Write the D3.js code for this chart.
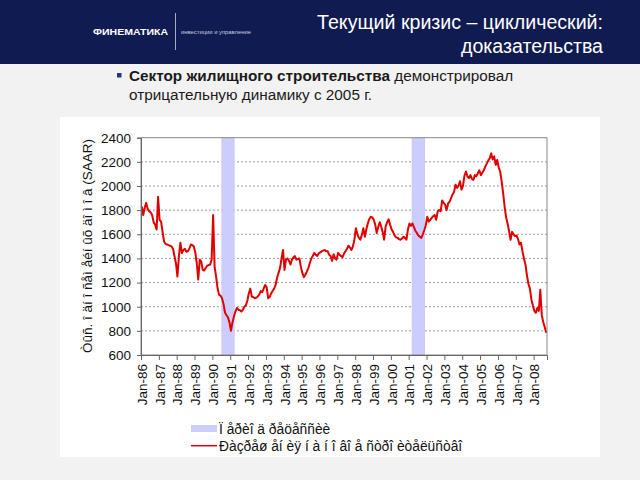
<!DOCTYPE html>
<html><head><meta charset="utf-8">
<script src="https://cdn.jsdelivr.net/npm/d3@7"></script>
<style>
body{margin:0;background:#fff}
svg{display:block;font-family:"Liberation Sans",Arial,sans-serif}
</style>
</head><body>
<svg id="c" width="640" height="480"></svg>
<script>
// ---------- DATA ----------
const startYear = 1986;           // first month: Jan 1986, monthly to Sep 2008
const permits = [
  1830,1760,1820,1860,1810,1790,1780,1760,1700,1680,1640,1910, // 1986
  1720,1705,1620,1540,1520,1515,1510,1505,1500,1480,1420,1360, // 1987
  1250,1420,1530,1445,1470,1480,1455,1460,1480,1515,1510,1500, // 1988
  1450,1360,1225,1390,1375,1305,1300,1320,1340,1345,1350,1390, // 1989
  1760,1330,1250,1150,1100,1090,1070,1020,950,930,910,870,     // 1990
  800,870,920,960,990,975,970,960,975,1000,1010,1050,          // 1991
  1110,1150,1085,1080,1070,1075,1085,1100,1130,1120,1150,1180, // 1992
  1160,1070,1080,1110,1130,1150,1180,1240,1280,1320,1400,1470, // 1993
  1305,1390,1400,1380,1350,1390,1410,1420,1390,1395,1400,1330, // 1994
  1280,1245,1265,1290,1320,1360,1400,1420,1445,1430,1420,1440, // 1995
  1450,1460,1465,1470,1460,1460,1430,1420,1380,1435,1400,1390, // 1996
  1445,1430,1420,1410,1440,1460,1480,1505,1490,1470,1500,1555, // 1997
  1650,1600,1570,1555,1595,1650,1580,1640,1690,1725,1745,1740, // 1998
  1720,1680,1610,1660,1700,1665,1620,1555,1665,1700,1725,1680, // 1999
  1640,1620,1590,1575,1570,1560,1555,1565,1580,1570,1555,1640, // 2000
  1690,1670,1690,1660,1630,1610,1590,1580,1570,1600,1635,1675, // 2001
  1745,1705,1720,1735,1750,1760,1720,1790,1800,1790,1880,1860, // 2002
  1845,1800,1855,1870,1900,1930,1950,2010,1985,2000,2040,1970, // 2003
  2000,2085,2120,2080,2065,2090,2060,2050,2090,2080,2105,2130, // 2004
  2090,2110,2130,2160,2185,2210,2230,2270,2220,2245,2175,2215, // 2005
  2155,2120,2040,1940,1830,1740,1690,1625,1555,1620,1600,1585, // 2006
  1590,1560,1515,1530,1460,1400,1350,1260,1190,1150,1060,1010, // 2007
  965,950,990,965,1140,930,870,830,785                          // 2008
];
const recessions = [["1990-07","1991-03"],["2001-03","2001-11"]];
const xTickLabels = ["Jan-86","Jan-87","Jan-88","Jan-89","Jan-90","Jan-91","Jan-92","Jan-93",
  "Jan-94","Jan-95","Jan-96","Jan-97","Jan-98","Jan-99","Jan-00","Jan-01","Jan-02","Jan-03",
  "Jan-04","Jan-05","Jan-06","Jan-07","Jan-08"];
const yTicks = [600,800,1000,1200,1400,1600,1800,2000,2200,2400];

const titleLines = ["Текущий кризис – циклический:","доказательства"];
const bulletBold = "Сектор жилищного строительства";
const bulletRest = " демонстрировал";
const bulletLine2 = "отрицательную динамику с 2005 г.";
const yTitle = "Òûñ. î äí î ñåì åéí ûõ äî ì î â (SAAR)";
const legendLabels = ["Ï åðèî ä ðåöåññèè","Ðàçðåø åí èÿ í à í î âî å ñòðî èòåëüñòâî"];

// ---------- DRAW ----------
(function(){
const svg = d3.select("#c");
svg.append("rect").attr("width",640).attr("height",480).attr("fill","#f2f2f2");
// header
svg.append("rect").attr("width",640).attr("height",64).attr("fill","#101b52");
svg.append("text").attr("x",93).attr("y",34.5).attr("fill","#fff").attr("font-weight","bold")
  .attr("font-size",8.5).attr("textLength",75).attr("lengthAdjust","spacingAndGlyphs").text("ФИНЕМАТИКА");
svg.append("line").attr("x1",175.5).attr("x2",175.5).attr("y1",13).attr("y2",50).attr("stroke","#aab").attr("stroke-width",1);
svg.append("text").attr("x",181).attr("y",34).attr("fill","#c8cbe0").attr("font-size",5)
  .attr("textLength",70).attr("lengthAdjust","spacingAndGlyphs").text("инвестиции и управление");
svg.selectAll("text.title").data(titleLines).join("text").attr("class","title")
  .attr("x",603).attr("y",(d,i)=>29+i*24).attr("text-anchor","end")
  .attr("fill","#fff").attr("font-size",19.6).text(d=>d);
// bullet
svg.append("rect").attr("x",117).attr("y",73).attr("width",4.5).attr("height",4.5).attr("fill","#233585");
const bt = svg.append("text").attr("x",129).attr("y",81).attr("font-size",15.3).attr("fill","#1a1a1a");
bt.append("tspan").attr("font-weight","bold").text(bulletBold);
bt.append("tspan").text(bulletRest);
svg.append("text").attr("x",129).attr("y",99.5).attr("font-size",15.3).attr("fill","#1a1a1a").text(bulletLine2);

// chart panel
svg.append("rect").attr("x",60).attr("y",117).attr("width",540).attr("height",340).attr("fill","#fff");

const pL=141, pR=547, pT=137.7, pB=355;
const n = permits.length;
const xLin = d3.scaleLinear().domain([0,n]).range([pL,pR]);
const y = d3.scaleLinear().domain([600,2400]).range([pB,pT]);
const monthIndex = s => { const [yy,mm] = s.split("-").map(Number); return (yy-startYear)*12 + (mm-1); };

// gridlines
svg.append("g").selectAll("line").data(yTicks.filter(v=>v>600 && v<2400)).join("line")
  .attr("x1",pL).attr("x2",pR).attr("y1",d=>y(d)).attr("y2",d=>y(d))
  .attr("stroke","#9a9a9a").attr("stroke-width",1).attr("stroke-dasharray","2,2");
// recession bands
svg.append("g").selectAll("rect").data(recessions).join("rect")
  .attr("x",d=>xLin(monthIndex(d[0])))
  .attr("width",d=>xLin(monthIndex(d[1])+1)-xLin(monthIndex(d[0])))
  .attr("y",pT).attr("height",pB-pT).attr("fill","#ccccff");
// line
const line = d3.line().x((d,i)=>xLin(i+0.5)).y(d=>y(d));
svg.append("path").datum(permits).attr("d",line).attr("fill","none")
  .attr("stroke","#e00000").attr("stroke-width",2).attr("stroke-linejoin","round");
// frame
svg.append("rect").attr("x",pL).attr("y",pT).attr("width",pR-pL).attr("height",pB-pT)
  .attr("fill","none").attr("stroke","#888").attr("stroke-width",1);

// y axis
const ya = svg.append("g").attr("transform",`translate(${pL},0)`)
  .call(d3.axisLeft(y).tickValues(yTicks).tickSize(4).tickPadding(6).tickFormat(d3.format("d")));
ya.select(".domain").attr("stroke","#666");
ya.selectAll(".tick line").attr("stroke","#666");
ya.selectAll("text").attr("font-size",13.5).attr("fill","#111").attr("font-family","Liberation Sans, Arial, sans-serif");

// x axis
const tickIdx = xTickLabels.map((d,i)=>i*12);
const xa = svg.append("g").attr("transform",`translate(0,${pB})`)
  .call(d3.axisBottom(xLin).tickValues(tickIdx).tickSize(5).tickFormat(""));
xa.select(".domain").attr("stroke","#666");
xa.selectAll(".tick line").attr("stroke","#666");
svg.append("g").selectAll("text").data(xTickLabels).join("text")
  .attr("transform",(d,i)=>`translate(${xLin(tickIdx[i]+0.5)+0.5},${pB+9}) rotate(-90)`)
  .attr("text-anchor","end").attr("dominant-baseline","central")
  .attr("font-size",13.5).attr("fill","#111").text(d=>d);

// y title
svg.append("text").attr("transform","translate(87,246) rotate(-90)")
  .attr("text-anchor","middle").attr("dominant-baseline","central")
  .attr("font-size",13.5).attr("fill","#111").text(yTitle);

// legend
svg.append("rect").attr("x",191).attr("y",425).attr("width",26).attr("height",7).attr("fill","#ccccff");
svg.append("line").attr("x1",191).attr("x2",217).attr("y1",445.7).attr("y2",445.7)
  .attr("stroke","#e00000").attr("stroke-width",1.5);
svg.selectAll("text.leg").data(legendLabels).join("text").attr("class","leg")
  .attr("x",219).attr("y",(d,i)=>434+i*16.5).attr("font-size",13.8).attr("fill","#111").text(d=>d);
})();
</script>
</body></html>
